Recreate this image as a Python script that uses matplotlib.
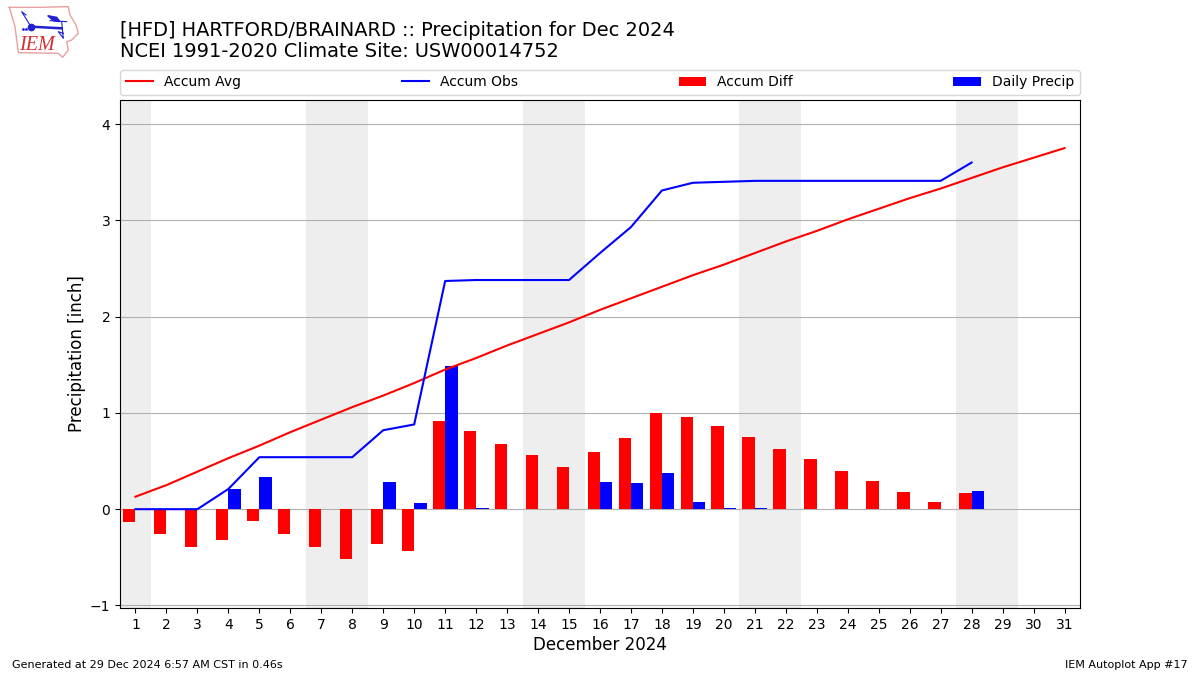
#!/usr/bin/env python3
"""
HFD December 2024 accumulated precipitation chart
"""

import matplotlib
matplotlib.use('Agg')
import matplotlib.pyplot as plt

days = list(range(1, 32))
weekend_days = [1, 7, 8, 14, 15, 21, 22, 28, 29]

accum_avg = [0.13, 0.25, 0.39, 0.53, 0.66, 0.80, 0.93, 1.06, 1.18, 1.31, 1.45,
             1.57, 1.70, 1.82, 1.94, 2.07, 2.19, 2.31, 2.43, 2.54, 2.66, 2.78,
             2.89, 3.01, 3.12, 3.23, 3.33, 3.44, 3.55, 3.65, 3.75]

# 観測は28日まで
obs_days = list(range(1, 29))
accum_obs = [0.0, 0.0, 0.0, 0.21, 0.54, 0.54, 0.54, 0.54, 0.82, 0.88, 2.37,
             2.38, 2.38, 2.38, 2.38, 2.66, 2.93, 3.31, 3.39, 3.40, 3.41, 3.41,
             3.41, 3.41, 3.41, 3.41, 3.41, 3.60]
accum_diff = [-0.13, -0.255, -0.39, -0.32, -0.12, -0.255, -0.39, -0.515, -0.36,
              -0.43, 0.92, 0.81, 0.68, 0.56, 0.44, 0.595, 0.74, 1.00, 0.96,
              0.865, 0.75, 0.63, 0.52, 0.40, 0.29, 0.18, 0.075, 0.17]
daily_precip = [0.0, 0.0, 0.0, 0.21, 0.335, 0.0, 0.0, 0.0, 0.28, 0.065, 1.49,
                0.01, 0.0, 0.0, 0.0, 0.28, 0.27, 0.38, 0.075, 0.01, 0.01, 0.0,
                0.0, 0.0, 0.0, 0.0, 0.0, 0.19]

title = ("[HFD] HARTFORD/BRAINARD :: Precipitation for Dec 2024\n"
         "NCEI 1991-2020 Climate Site: USW00014752")

fig = plt.figure(figsize=(12, 6.75), dpi=100)
ax = fig.add_axes([0.1, 0.0993, 0.8, 0.7526])

# 週末の網掛け
for day in weekend_days:
    ax.axvspan(day - 0.5, day + 0.5, facecolor='#EEEEEE', edgecolor='none', zorder=0)

ax.plot(days, accum_avg, color='red', linewidth=1.5, label='Accum Avg', zorder=3)
ax.plot(obs_days, accum_obs, color='blue', linewidth=1.5, label='Accum Obs', zorder=3)
ax.bar([d - 0.4 for d in obs_days], accum_diff, width=0.4, align='edge',
       color='red', label='Accum Diff', zorder=2)
ax.bar(obs_days, daily_precip, width=0.4, align='edge',
       color='blue', label='Daily Precip', zorder=2)

ax.set_xlim(0.5, 31.5)
ax.set_ylim(-1.026, 4.25)
ax.set_xticks(days)
ax.set_yticks([-1, 0, 1, 2, 3, 4])
ax.yaxis.grid(True, color='#B0B0B0', linewidth=0.8)
ax.set_axisbelow(True)
ax.tick_params(labelsize=10)
ax.set_xlabel('December 2024', fontsize=12, labelpad=3.3)
ax.set_ylabel('Precipitation [inch]', fontsize=12, labelpad=2.5)

ax.legend(loc='lower left', bbox_to_anchor=(0, 1.010, 1, 0.05), ncols=4,
          mode='expand', borderaxespad=0, fontsize=10)

fig.text(0.1, 0.9100, title, fontsize=13.95, ha='left', va='bottom', linespacing=1.15)
fig.text(0.01, 0.0075, 'Generated at 29 Dec 2024 6:57 AM CST in 0.46s', fontsize=8,
         ha='left', va='bottom')
fig.text(0.99, 0.0075, 'IEM Autoplot App #17', fontsize=8, ha='right', va='bottom')

# ロゴ（アイオワ州の輪郭と天気記号）
logo = fig.add_axes([0, 1 - 60 / 675, 85 / 1200, 60 / 675])
logo.set_xlim(0, 255)
logo.set_ylim(180, 0)
logo.axis('off')
logo.plot([28, 115, 205, 210, 228, 235, 215, 200, 205, 188, 175, 55, 45, 28],
          [22, 22, 20, 45, 75, 100, 120, 125, 150, 172, 160, 158, 80, 22],
          color='#E8A0A0', linewidth=1)
logo.plot([93, 185], [80, 85], color='#2020D0', linewidth=1.8)
logo.plot([93], [80], marker='o', color='#2020D0', markersize=4.5)
logo.plot([93, 65, 78], [80, 35, 45], color='#2020D0', linewidth=0.8)
logo.plot([70, 78], [88, 88], linestyle='none', marker='.', color='#2020D0', markersize=2)
logo.fill([143, 170, 180, 160], [47, 52, 65, 62], color='#2020D0')
logo.plot([150, 200], [62, 65], color='#2020D0', linewidth=0.8)
logo.plot([185, 190, 175, 190], [65, 115, 95, 100], color='#2020D0', linewidth=0.8)
logo.text(112, 135, 'IEM', color='#D03030', fontsize=14.5, fontstyle='italic',
          family='Liberation Serif', ha='center', va='center')

plt.savefig('out.png', dpi=100)
plt.close()
